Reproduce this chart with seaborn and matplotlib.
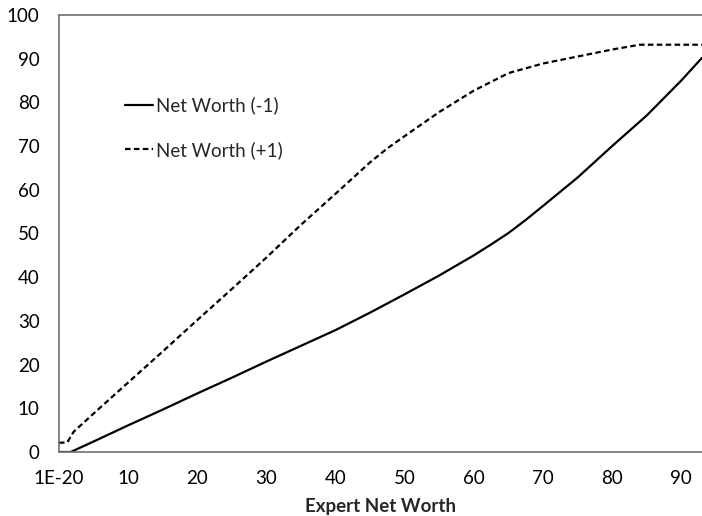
import pandas as pd
import seaborn as sns
import matplotlib.pyplot as plt

# values
x_minus = [0, 1.7, 5, 10, 15, 20, 25, 30, 35, 40, 45, 50, 55, 60, 62.5, 65, 67.5, 70, 75, 80, 85, 90, 93]
nw_minus = [0, 0, 2.4, 6.1, 9.7, 13.4, 17.0, 20.7, 24.3, 27.9, 31.9, 36.1, 40.4, 45.0,
            47.5, 50.1, 53.1, 56.3, 62.8, 70.0, 77.0, 85.0, 90.2]

x_plus = [0, 1.2, 2.1, 5, 10, 15, 20, 25, 30, 35, 40, 45, 47.5, 50, 55, 60, 65, 70, 75, 80, 84, 93]
nw_plus = [2.1, 2.2, 4.6, 8.8, 15.9, 23.0, 30.2, 37.3, 44.5, 52.0, 59.1, 66.3, 69.5, 72.3,
           77.8, 82.7, 86.7, 88.9, 90.5, 92.1, 93.2, 93.2]

x_ticks = [0, 10, 20, 30, 40, 50, 60, 70, 80, 90]
x_tick_labels = ['1E-20', '10', '20', '30', '40', '50', '60', '70', '80', '90']
y_ticks = list(range(0, 101, 10))

sns.set_theme(style="white")
plt.rcParams['font.family'] = ['Lato', 'DejaVu Sans']

df_minus = pd.DataFrame({'x': x_minus, 'y': nw_minus})
df_plus = pd.DataFrame({'x': x_plus, 'y': nw_plus})

fig = plt.figure(figsize=(7.02, 5.16), dpi=100)
ax = fig.add_axes([59 / 702, 64 / 516, 643 / 702, 437 / 516])

sns.lineplot(data=df_minus, x='x', y='y', ax=ax, color='black', linewidth=1.6,
             label='Net Worth (-1)', sort=False)
sns.lineplot(data=df_plus, x='x', y='y', ax=ax, color='black', linewidth=1.6,
             linestyle=(0, (2.5, 1.5)), label='Net Worth (+1)', sort=False)

ax.set_xlim(0, 93)
ax.set_ylim(0, 100)
ax.set_xticks(x_ticks)
ax.set_xticklabels(x_tick_labels)
ax.set_yticks(y_ticks)
ax.tick_params(axis='both', direction='in', length=5, width=1, color='#888888',
               labelsize=13.5, labelcolor='black')
ax.tick_params(axis='x', pad=13)
ax.tick_params(axis='y', pad=14)

for side in ['left', 'bottom', 'top']:
    ax.spines[side].set_color('#707070')
    ax.spines[side].set_linewidth(1.2)
ax.spines['right'].set_visible(False)

ax.set_xlabel('Expert Net Worth', fontsize=13.5, fontweight='bold', labelpad=8)
ax.set_ylabel('')

ax.legend(loc='upper left', bbox_to_anchor=(0.1026, 0.813), frameon=False, fontsize=13.5,
          handlelength=1.5, handletextpad=0.15, labelspacing=1.4,
          borderpad=0, borderaxespad=0)

plt.savefig('out.png', dpi=100)
plt.close()
